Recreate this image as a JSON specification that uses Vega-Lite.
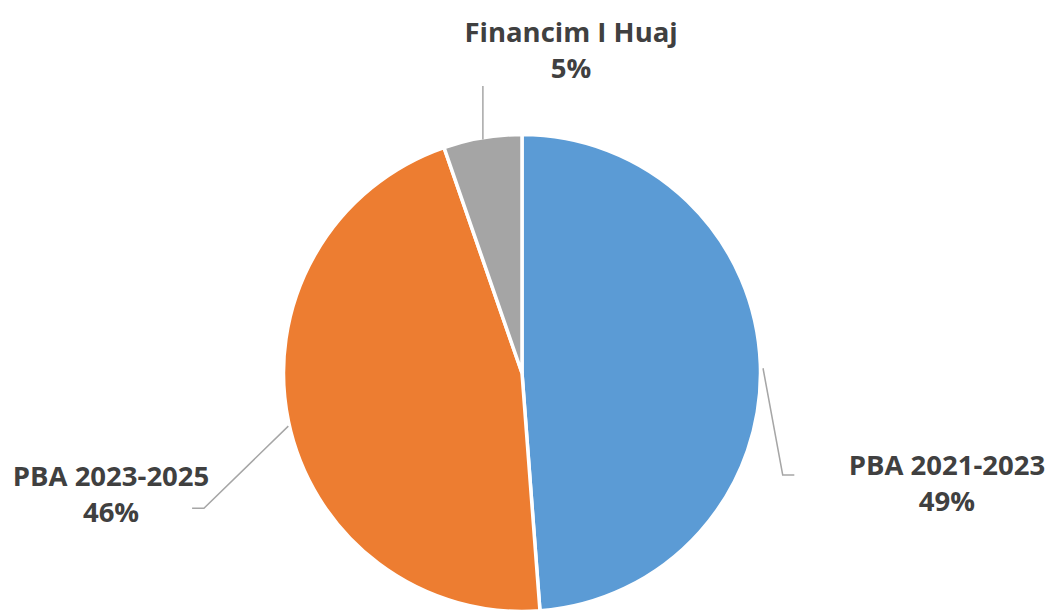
{
  "$schema": "https://vega.github.io/schema/vega-lite/v6.json",
  "width": 1044,
  "height": 474,
  "padding": {"left": 0, "top": 136, "right": 7, "bottom": 0},
  "autosize": {"type": "none"},
  "background": "white",
  "config": {"view": {"stroke": null}},
  "datasets": {
    "slices": [
      {"category": "PBA 2021-2023", "share": 48.8, "label": "49%", "ord": 1},
      {"category": "PBA 2023-2025", "share": 45.9, "label": "46%", "ord": 2},
      {"category": "Financim I Huaj", "share": 5.3, "label": "5%", "ord": 3}
    ],
    "leaders": [
      {"category": "Financim I Huaj", "pt": 1, "lx": -0.165, "ly": 1.211},
      {"category": "Financim I Huaj", "pt": 2, "lx": -0.165, "ly": 0.985},
      {"category": "PBA 2021-2023", "pt": 1, "lx": 1.017, "ly": 0.020},
      {"category": "PBA 2021-2023", "pt": 2, "lx": 1.100, "ly": -0.430},
      {"category": "PBA 2021-2023", "pt": 3, "lx": 1.149, "ly": -0.430},
      {"category": "PBA 2023-2025", "pt": 1, "lx": -0.986, "ly": -0.224},
      {"category": "PBA 2023-2025", "pt": 2, "lx": -1.342, "ly": -0.571},
      {"category": "PBA 2023-2025", "pt": 3, "lx": -1.392, "ly": -0.571}
    ],
    "labels": [
      {"category": "Financim I Huaj", "text": "Financim I Huaj\n5%", "lx": 0.207, "ly": 1.395},
      {"category": "PBA 2021-2023", "text": "PBA 2021-2023\n49%", "lx": 1.793, "ly": -0.432},
      {"category": "PBA 2023-2025", "text": "PBA 2023-2025\n46%", "lx": -1.734, "ly": -0.478}
    ]
  },
  "layer": [
    {
      "data": {"name": "slices"},
      "mark": {"type": "arc", "stroke": "white", "strokeWidth": 3.5, "radius": 238.5},
      "encoding": {
        "theta": {"field": "share", "type": "quantitative", "stack": true},
        "order": {"field": "ord", "type": "quantitative"},
        "color": {
          "field": "category",
          "type": "nominal",
          "scale": {
            "domain": ["PBA 2021-2023", "PBA 2023-2025", "Financim I Huaj"],
            "range": ["#5B9BD5", "#ED7D31", "#A5A5A5"]
          },
          "legend": null
        }
      }
    },
    {
      "data": {"name": "leaders"},
      "mark": {"type": "line", "color": "#A6A6A6", "strokeWidth": 1.5},
      "encoding": {
        "x": {"field": "lx", "type": "quantitative", "scale": {"domain": [-2.2025, 2.2025], "nice": false, "zero": false}, "axis": null},
        "y": {"field": "ly", "type": "quantitative", "scale": {"domain": [-1, 1], "nice": false, "zero": false}, "axis": null},
        "detail": {"field": "category"},
        "order": {"field": "pt", "type": "quantitative"}
      }
    },
    {
      "data": {"name": "labels"},
      "mark": {"type": "text", "font": "Open Sans", "fontWeight": "bold", "fontSize": 27.5, "color": "#404040", "align": "center", "baseline": "alphabetic", "lineBreak": "\n", "lineHeight": 36},
      "encoding": {
        "x": {"field": "lx", "type": "quantitative", "scale": {"domain": [-2.2025, 2.2025], "nice": false, "zero": false}, "axis": null},
        "y": {"field": "ly", "type": "quantitative", "scale": {"domain": [-1, 1], "nice": false, "zero": false}, "axis": null},
        "text": {"field": "text"}
      }
    }
  ]
}
